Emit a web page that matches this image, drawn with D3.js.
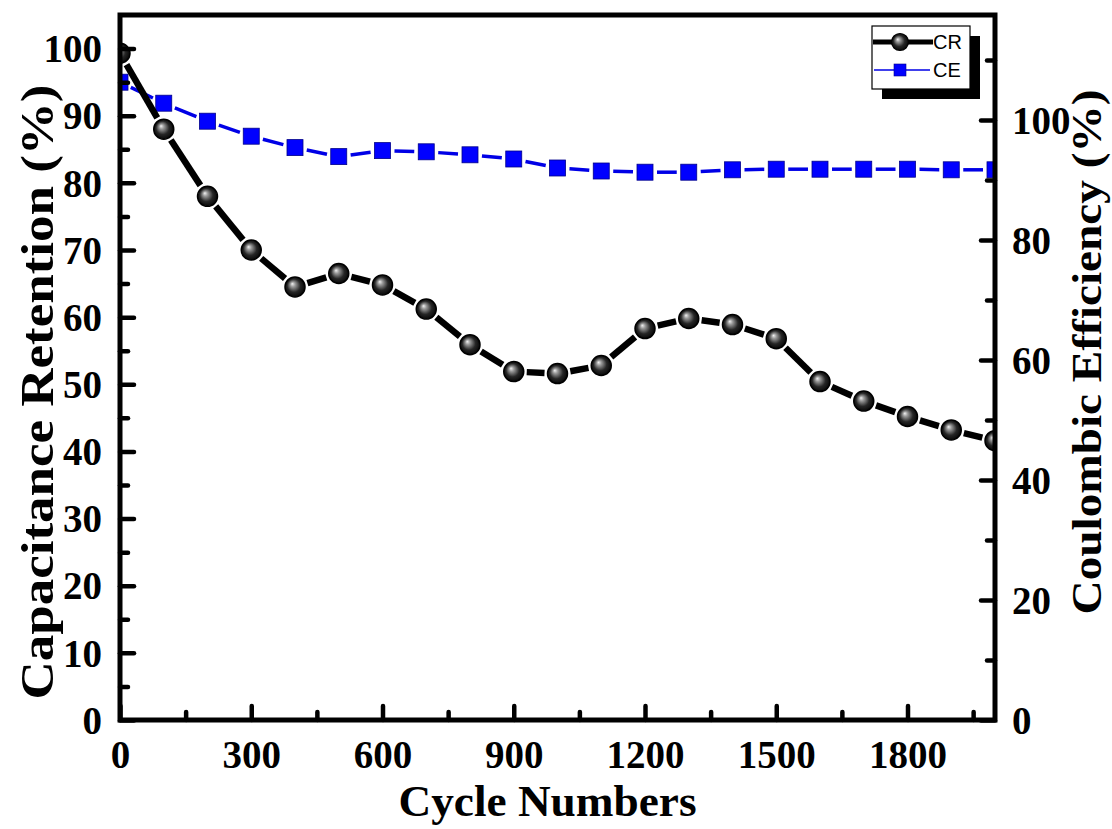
<!DOCTYPE html>
<html>
<head>
<meta charset="utf-8">
<script src="https://cdn.jsdelivr.net/npm/d3@7"></script>
<style>
  html, body { margin: 0; padding: 0; background: #fff; }
  svg { display: block; }
</style>
</head>
<body>
<svg id="chart" width="1112" height="829"></svg>
<script>
// Cycling stability: capacitance retention (left axis) and coulombic efficiency (right axis)
const cycles = [0, 100, 200, 300, 400, 500, 600, 700, 800, 900, 1000,
                1100, 1200, 1300, 1400, 1500, 1600, 1700, 1800, 1900, 2000];
const retention = [99.3, 88.0, 78.0, 70.0, 64.5, 66.5, 64.8, 61.2, 55.9, 51.9, 51.6,
                   52.8, 58.3, 59.8, 58.9, 56.8, 50.4, 47.5, 45.2, 43.2, 41.6];
const efficiency = [106.3, 102.8, 99.8, 97.3, 95.4, 93.9, 94.9, 94.7, 94.2, 93.5, 92.0,
                    91.5, 91.3, 91.3, 91.7, 91.8, 91.8, 91.8, 91.8, 91.7, 91.7];

const xTicks = [0, 300, 600, 900, 1200, 1500, 1800];
const xMinor = [150, 450, 750, 1050, 1350, 1650, 1950];
const leftTicks = [0, 10, 20, 30, 40, 50, 60, 70, 80, 90, 100];
const leftMinor = [5, 15, 25, 35, 45, 55, 65, 75, 85, 95];
const rightTicks = [0, 20, 40, 60, 80, 100];
const rightMinor = [10, 30, 50, 70, 90, 110];

const legendLabels = ["CR", "CE"];

const L = 120, R = 995, T = 15, B = 720;
const svg = d3.select("#chart");

const x = d3.scaleLinear().domain([0, 2000]).range([L, R]);
const yL = d3.scaleLinear().domain([0, 105]).range([B, T]);
const yR = d3.scaleLinear().domain([0, 117.5]).range([B, T]);

const serif = "'Liberation Serif', 'Times New Roman', serif";
const sans = "'Liberation Sans', Arial, sans-serif";

// sphere shading for the retention markers
const defs = svg.append("defs");
const grad = defs.append("radialGradient").attr("id", "sphere")
  .attr("cx", "50%").attr("cy", "50%").attr("r", "55%")
  .attr("fx", "36%").attr("fy", "34%");
grad.append("stop").attr("offset", "0%").attr("stop-color", "#f2f2f2");
grad.append("stop").attr("offset", "22%").attr("stop-color", "#9a9a9a");
grad.append("stop").attr("offset", "60%").attr("stop-color", "#262626");
grad.append("stop").attr("offset", "100%").attr("stop-color", "#000");

defs.append("clipPath").attr("id", "plotclip")
  .append("rect").attr("x", L).attr("y", T).attr("width", R - L).attr("height", B - T);

// connecting segments that stop short of each marker
function gapSegments(pts, gap) {
  const segs = [];
  for (let i = 0; i < pts.length - 1; i++) {
    const [x0, y0] = pts[i], [x1, y1] = pts[i + 1];
    const d = Math.hypot(x1 - x0, y1 - y0);
    if (d <= 2 * gap) continue;
    const ux = (x1 - x0) / d, uy = (y1 - y0) / d;
    segs.push([x0 + ux * gap, y0 + uy * gap, x1 - ux * gap, y1 - uy * gap]);
  }
  return segs;
}

const plot = svg.append("g").attr("clip-path", "url(#plotclip)");

// coulombic efficiency series
const cePts = cycles.map((c, i) => [x(c), yR(efficiency[i])]);
plot.append("g").selectAll("line").data(gapSegments(cePts, 12)).join("line")
  .attr("x1", d => d[0]).attr("y1", d => d[1]).attr("x2", d => d[2]).attr("y2", d => d[3])
  .attr("stroke", "#0000e6").attr("stroke-width", 3.5);
const sq = 16;
plot.append("g").selectAll("rect").data(cePts).join("rect")
  .attr("x", d => d[0] - sq / 2).attr("y", d => d[1] - sq / 2)
  .attr("width", sq).attr("height", sq)
  .attr("fill", "#0000ff").attr("stroke", "#00008a").attr("stroke-width", 0.8);

// capacitance retention series
const crPts = cycles.map((c, i) => [x(c), yL(retention[i])]);
plot.append("g").selectAll("line").data(gapSegments(crPts, 13)).join("line")
  .attr("x1", d => d[0]).attr("y1", d => d[1]).attr("x2", d => d[2]).attr("y2", d => d[3])
  .attr("stroke", "#000").attr("stroke-width", 6.5);
plot.append("g").selectAll("circle").data(crPts).join("circle")
  .attr("cx", d => d[0]).attr("cy", d => d[1]).attr("r", 10)
  .attr("fill", "url(#sphere)").attr("stroke", "#000").attr("stroke-width", 1.5);

// axes with inward ticks
function styleAxis(g, w) {
  g.select(".domain").remove();
  g.selectAll(".tick line").attr("stroke", "#000").attr("stroke-width", w).attr("stroke-linecap", "round");
  g.selectAll(".tick text").attr("fill", "#000").attr("font-family", serif)
    .attr("font-weight", "bold").attr("font-size", 39);
}

const gx = svg.append("g").attr("transform", `translate(0,${B})`)
  .call(d3.axisBottom(x).tickValues(xTicks).tickSize(-14).tickPadding(20).tickFormat(d3.format("d")));
styleAxis(gx, 4.5);
const gxm = svg.append("g").attr("transform", `translate(0,${B})`)
  .call(d3.axisBottom(x).tickValues(xMinor).tickSize(-8).tickFormat(""));
styleAxis(gxm, 4.5);

const gl = svg.append("g").attr("transform", `translate(${L},0)`)
  .call(d3.axisLeft(yL).tickValues(leftTicks).tickSize(-14).tickPadding(18).tickFormat(d3.format("d")));
styleAxis(gl, 4.5);
gl.selectAll(".tick text").attr("dy", "0.34em");
const glm = svg.append("g").attr("transform", `translate(${L},0)`)
  .call(d3.axisLeft(yL).tickValues(leftMinor).tickSize(-8).tickFormat(""));
styleAxis(glm, 4.5);

const gr = svg.append("g").attr("transform", `translate(${R},0)`)
  .call(d3.axisRight(yR).tickValues(rightTicks).tickSize(-14).tickPadding(17).tickFormat(d3.format("d")));
styleAxis(gr, 4.5);
gr.selectAll(".tick text").attr("dy", "0.34em");
const grm = svg.append("g").attr("transform", `translate(${R},0)`)
  .call(d3.axisRight(yR).tickValues(rightMinor).tickSize(-8).tickFormat(""));
styleAxis(grm, 4.5);

// frame
svg.append("rect").attr("x", L).attr("y", T).attr("width", R - L).attr("height", B - T)
  .attr("fill", "none").attr("stroke", "#000").attr("stroke-width", 5);

// axis titles
svg.append("text").attr("x", (L + R) / 2 - 10).attr("y", 816)
  .attr("text-anchor", "middle").attr("font-family", serif).attr("font-weight", "bold")
  .attr("font-size", 44).attr("textLength", 298).attr("lengthAdjust", "spacingAndGlyphs")
  .text("Cycle Numbers");
svg.append("text").attr("transform", "translate(37,392) rotate(-90)")
  .attr("dy", "0.35em")
  .attr("text-anchor", "middle").attr("font-family", serif).attr("font-weight", "bold")
  .attr("font-size", 46).attr("textLength", 615).attr("lengthAdjust", "spacingAndGlyphs")
  .text("Capacitance Retention (%)");
svg.append("text").attr("transform", "translate(1086,352) rotate(-90)")
  .attr("dy", "0.35em")
  .attr("text-anchor", "middle").attr("font-family", serif).attr("font-weight", "bold")
  .attr("font-size", 43).attr("textLength", 525).attr("lengthAdjust", "spacingAndGlyphs")
  .text("Coulombic Efficiency (%)");

// legend with drop shadow
const lg = svg.append("g");
const bx = 872, by = 26, bw = 98, bh = 63, sh = 10;
lg.append("rect").attr("x", bx + sh).attr("y", by + sh).attr("width", bw).attr("height", bh).attr("fill", "#000");
lg.append("rect").attr("x", bx).attr("y", by).attr("width", bw).attr("height", bh)
  .attr("fill", "#fff").attr("stroke", "#000").attr("stroke-width", 1.2);
// CR entry
lg.append("line").attr("x1", bx + 1).attr("x2", bx + 61).attr("y1", by + 16).attr("y2", by + 16)
  .attr("stroke", "#000").attr("stroke-width", 5);
lg.append("circle").attr("cx", bx + 28).attr("cy", by + 16).attr("r", 8.5)
  .attr("fill", "url(#sphere)").attr("stroke", "#000").attr("stroke-width", 1.2);
lg.append("text").attr("x", bx + 61).attr("y", by + 23).attr("font-family", sans)
  .attr("font-size", 20).attr("fill", "#000").text(legendLabels[0]);
// CE entry
lg.append("line").attr("x1", bx + 2).attr("x2", bx + 58).attr("y1", by + 44).attr("y2", by + 44)
  .attr("stroke", "#0000e6").attr("stroke-width", 1.5);
lg.append("rect").attr("x", bx + 22).attr("y", by + 38).attr("width", 12).attr("height", 12)
  .attr("fill", "#0000ff").attr("stroke", "#00008a").attr("stroke-width", 0.6);
lg.append("text").attr("x", bx + 61).attr("y", by + 51).attr("font-family", sans)
  .attr("font-size", 20).attr("fill", "#000").text(legendLabels[1]);
</script>
</body>
</html>
